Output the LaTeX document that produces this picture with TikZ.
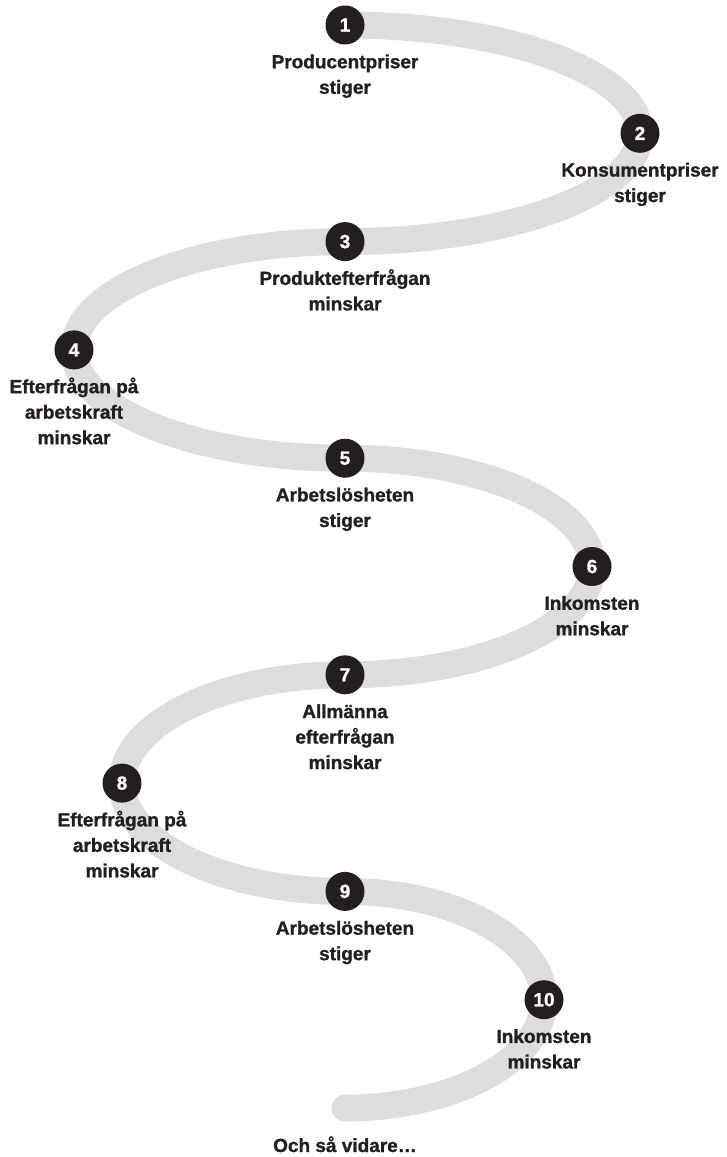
\documentclass[tikz,border=0pt]{standalone}
\usepackage{fontspec}
\setmainfont{Liberation Sans}[BoldFeatures={FakeBold=1.2}]
\usetikzlibrary{positioning}
\definecolor{bandgray}{HTML}{DCDDDE}
\definecolor{ink}{HTML}{231F20}
\begin{document}
\begin{tikzpicture}[x=1pt,y=1pt,
  num/.style={circle, fill=ink, text=white, minimum size=39pt, inner sep=0pt,
    font=\fontsize{19}{19}\selectfont\bfseries},
  lbl/.style={align=center, inner sep=0pt, text=ink,
    font=\fontsize{19}{25.5}\selectfont\bfseries},
  bandline/.style={draw=bandgray, line width=27pt, line cap=round}
]
\useasboundingbox (0,0) rectangle (726,-1157);
\coordinate (s) at (345,-25);
\path[bandline] (s)
  arc[start angle=90, end angle=-90, x radius=295pt, y radius=108.3pt]
  arc[start angle=90, end angle=270, x radius=271pt, y radius=108.3pt]
  arc[start angle=90, end angle=-90, x radius=247pt, y radius=108.3pt]
  arc[start angle=90, end angle=270, x radius=223pt, y radius=108.3pt]
  arc[start angle=90, end angle=-90, x radius=199pt, y radius=108.3pt] coordinate (e);

\node[num] (c1) at (345,-25) {1};
\node[num] (c2) at (640,-133.3) {2};
\node[num] (c3) at (345,-241.6) {3};
\node[num] (c4) at (74,-349.9) {4};
\node[num] (c5) at (345,-458.2) {5};
\node[num] (c6) at (592,-566.5) {6};
\node[num] (c7) at (345,-674.8) {7};
\node[num] (c8) at (122,-783.1) {8};
\node[num] (c9) at (345,-891.4) {9};
\node[num] (c10) at (544,-999.7) {10};

\node[lbl, below=5.5pt of c1] (l1) {\strut Producentpriser\\\strut stiger};
\node[lbl, below=5.5pt of c2] (l2) {\strut Konsumentpriser\\\strut stiger};
\node[lbl, below=5.5pt of c3] (l3) {\strut Produktefterfrågan\\\strut minskar};
\node[lbl, below=5.5pt of c4] (l4) {\strut Efterfrågan på\\\strut arbetskraft\\\strut minskar};
\node[lbl, below=5.5pt of c5] (l5) {\strut Arbetslösheten\\\strut stiger};
\node[lbl, below=5.5pt of c6] (l6) {\strut Inkomsten\\\strut minskar};
\node[lbl, below=5.5pt of c7] (l7) {\strut Allmänna\\\strut efterfrågan\\\strut minskar};
\node[lbl, below=5.5pt of c8] (l8) {\strut Efterfrågan på\\\strut arbetskraft\\\strut minskar};
\node[lbl, below=5.5pt of c9] (l9) {\strut Arbetslösheten\\\strut stiger};
\node[lbl, below=5.5pt of c10] (l10) {\strut Inkomsten\\\strut minskar};
\node[lbl, anchor=base] (end) at (345,-1152) {Och så vidare…};
\end{tikzpicture}
\end{document}
